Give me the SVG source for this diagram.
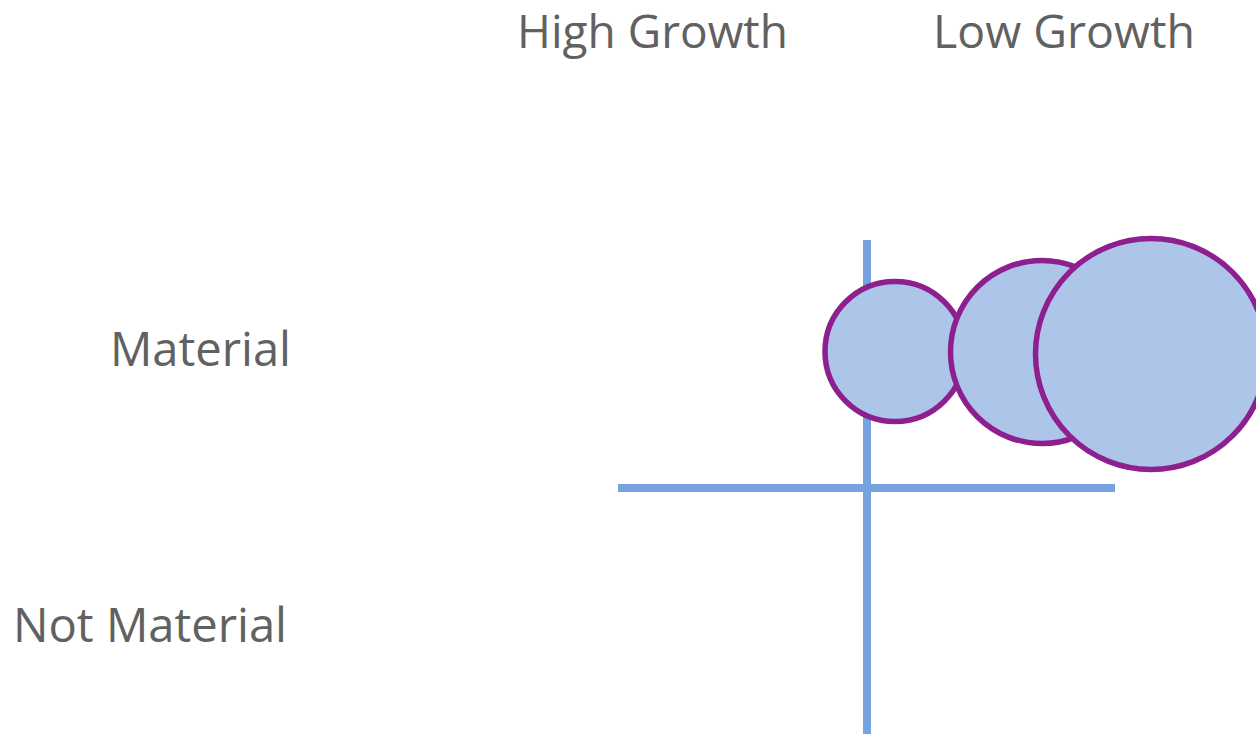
<svg xmlns="http://www.w3.org/2000/svg" width="1256" height="734" viewBox="0 0 1256 734">
<style>
.lbl{font-family:"Open Sans","Noto Sans","Liberation Sans",sans-serif;font-size:48px;fill:#616161}
.top{font-size:45px}
.axis{stroke:#76A2DE;stroke-width:8;fill:none}
.bub{fill:#AEC5EA;stroke:#8E1F8E;stroke-width:5.5}
</style>
<rect width="1256" height="734" fill="#ffffff"/>
<g id="connectors">
<line class="axis" x1="867" y1="240" x2="867" y2="734"/>
<line class="axis" x1="618" y1="488" x2="1115" y2="488"/>
</g>
<g id="bubble1"><circle class="bub" cx="895" cy="351.5" r="70"/></g>
<g id="bubble2"><circle class="bub" cx="1042" cy="352" r="91.5"/></g>
<g id="bubble3"><circle class="bub" cx="1151" cy="354" r="115.5"/></g>
<g id="label-high"><text class="lbl top" x="517" y="48" textLength="271" lengthAdjust="spacingAndGlyphs">High Growth</text></g>
<g id="label-low"><text class="lbl top" x="933" y="48" textLength="262" lengthAdjust="spacingAndGlyphs">Low Growth</text></g>
<g id="label-material"><text class="lbl" x="110" y="366" textLength="181" lengthAdjust="spacingAndGlyphs">Material</text></g>
<g id="label-notmaterial"><text class="lbl" x="13" y="642" textLength="274" lengthAdjust="spacingAndGlyphs">Not Material</text></g>
</svg>
